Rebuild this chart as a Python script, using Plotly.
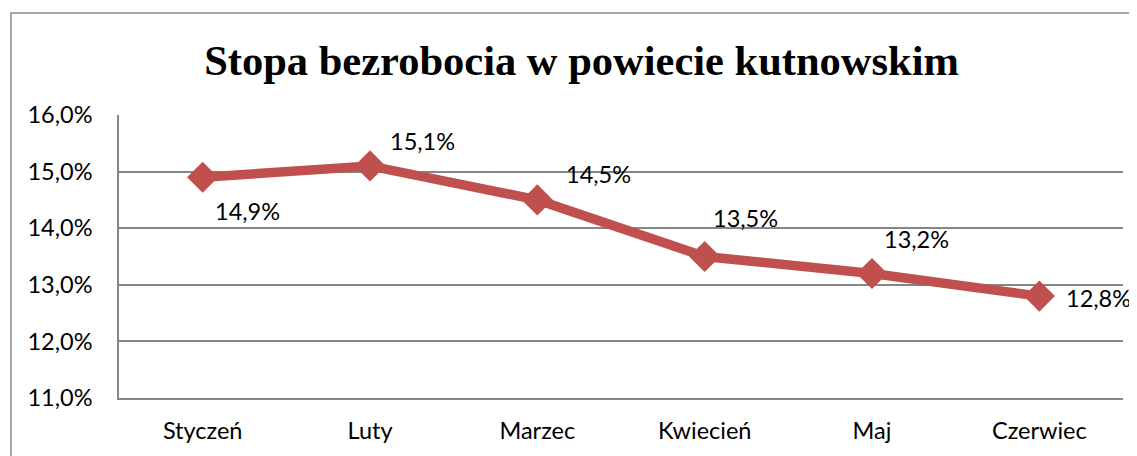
import plotly.graph_objects as go

months = ["Styczeń", "Luty", "Marzec", "Kwiecień", "Maj", "Czerwiec"]
rates = [14.9, 15.1, 14.5, 13.5, 13.2, 12.8]
labels = ["14,9%", "15,1%", "14,5%", "13,5%", "13,2%", "12,8%"]
ytick_vals = [11, 12, 13, 14, 15, 16]
ytick_text = ["11,0%", "12,0%", "13,0%", "14,0%", "15,0%", "16,0%"]
label_shift = [(45, -34), (52, 25), (61, 26), (41, 39), (44, 34), (59, -2)]

FONT = "Lato, Open Sans, sans-serif"
FS = 23.5

fig = go.Figure()
fig.add_trace(go.Scatter(
    x=months, y=rates, mode="lines+markers",
    line=dict(color="#C0504D", width=9.5),
    marker=dict(symbol="diamond", size=24, color="#C0504D"),
    hoverinfo="skip",
))

for m, r, t, (dx, dy) in zip(months, rates, labels, label_shift):
    fig.add_annotation(x=m, y=r, text=t, showarrow=False, xshift=dx, yshift=dy,
                       font=dict(family=FONT, size=FS, color="#000"))

fig.add_shape(type="rect", xref="paper", yref="paper",
              x0=-0.1076, y0=-0.4, x1=1.1, y1=1.3604,
              line=dict(color="#8c8c8c", width=1.5), layer="below")

fig.update_layout(
    width=1129, height=448,
    margin=dict(l=111, r=14, t=107, b=58),
    paper_bgcolor="white", plot_bgcolor="white",
    showlegend=False,
    title=dict(text="<b>Stopa bezrobocia w powiecie kutnowskim</b>",
               font=dict(family="Liberation Serif, Times New Roman, serif", size=42.5, color="#000"),
               x=0.508, xanchor="center", y=0.884, yanchor="middle"),
    xaxis=dict(type="category", range=[-0.5, 5.5], showgrid=False, automargin=False,
               showline=True, linecolor="#868686", linewidth=1.5,
               ticks="", tickfont=dict(family=FONT, size=FS, color="#000"),
               ticklabelstandoff=11),
    yaxis=dict(range=[11, 16], tickvals=ytick_vals, ticktext=ytick_text, automargin=False,
               showgrid=True, gridcolor="#868686", gridwidth=1.5,
               showline=True, linecolor="#868686", linewidth=1.5,
               zeroline=False, ticks="",
               tickfont=dict(family=FONT, size=FS, color="#000"),
               ticklabelstandoff=20),
)

fig.write_html("out.html")
